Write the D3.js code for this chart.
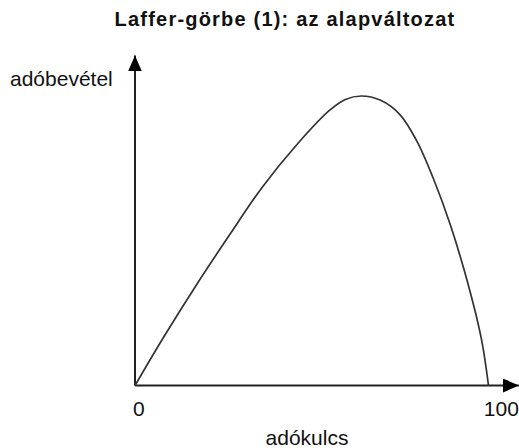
<!DOCTYPE html>
<html>
<head>
<meta charset="utf-8">
<script src="https://cdn.jsdelivr.net/npm/d3@7"></script>
<style>
    body { margin: 0; background: #fff; }
    text { font-family: Arial, "Liberation Sans", sans-serif; fill: #111; }
    .title { font-size: 20px; font-weight: bold; letter-spacing: 1.2px; }
    .label { font-size: 21px; }
</style>
</head>
<body>
<script>
//chart data
var taxRate = [0, 8, 17.5, 27, 36, 46, 55, 59.5, 64, 69.5, 75, 79.7, 84.4, 89.2, 94, 98, 100];
var revenue = [0, 16.5, 35, 52.5, 68.5, 83.5, 95, 98.8, 100, 98.5, 93.5, 84.5, 71.5, 55.5, 36, 16, 0];
var xTicks = ["0", "100"];
var titleText = "Laffer-görbe (1): az alapváltozat";
var xLabel = "adókulcs";
var yLabel = "adóbevétel";

window.onload = function(){

    var w = 519, h = 448;

    var svg = d3.select("body")
        .append("svg")
        .attr("width", w)
        .attr("height", h);

    //scales
    var x = d3.scaleLinear()
        .domain([0, 100])
        .range([135, 488.5]);

    var y = d3.scaleLinear()
        .domain([0, 100])
        .range([385.5, 96]);

    //axis extents (in data units) so the arrows overshoot the curve
    var xEnd = 108.6, yEnd = 114;

    //arrowhead marker
    svg.append("defs").append("marker")
        .attr("id", "arrow")
        .attr("viewBox", "0 0 16 14")
        .attr("refX", 16)
        .attr("refY", 7)
        .attr("markerWidth", 16)
        .attr("markerHeight", 14)
        .attr("markerUnits", "userSpaceOnUse")
        .attr("orient", "auto")
        .append("path")
        .attr("d", "M0,0L16,7L0,14Z")
        .attr("fill", "#000");

    //x axis
    svg.append("line")
        .attr("x1", x(0))
        .attr("y1", y(0))
        .attr("x2", x(xEnd))
        .attr("y2", y(0))
        .attr("stroke", "#222")
        .attr("stroke-width", 2)
        .attr("marker-end", "url(#arrow)");

    //y axis
    svg.append("line")
        .attr("x1", x(0))
        .attr("y1", y(0))
        .attr("x2", x(0))
        .attr("y2", y(yEnd))
        .attr("stroke", "#222")
        .attr("stroke-width", 2)
        .attr("marker-end", "url(#arrow)");

    //curve
    var points = taxRate.map(function(d, i){
        return [d, revenue[i]];
    });

    var line = d3.line()
        .x(function(d){ return x(d[0]); })
        .y(function(d){ return y(d[1]); })
        .curve(d3.curveCatmullRom.alpha(0.5));

    svg.append("path")
        .datum(points)
        .attr("d", line)
        .attr("fill", "none")
        .attr("stroke", "#333")
        .attr("stroke-width", 1.7);

    //tick labels: first one starts at the origin, last one ends at the arrow tip
    svg.selectAll(".tick")
        .data(xTicks)
        .enter()
        .append("text")
        .attr("class", "label")
        .attr("x", function(d, i){
            return i === 0 ? x(+d) - 2 : x(xEnd);
        })
        .attr("y", 416)
        .attr("text-anchor", function(d, i){
            return i === 0 ? "start" : "end";
        })
        .text(function(d){ return d; });

    //axis titles
    svg.append("text")
        .attr("class", "label")
        .attr("x", 307)
        .attr("y", 445)
        .attr("text-anchor", "middle")
        .text(xLabel);

    svg.append("text")
        .attr("class", "label")
        .attr("x", 10)
        .attr("y", 86)
        .text(yLabel);

    //chart title
    svg.append("text")
        .attr("class", "title")
        .attr("x", 285)
        .attr("y", 26)
        .attr("text-anchor", "middle")
        .text(titleText);
};
</script>
</body>
</html>
